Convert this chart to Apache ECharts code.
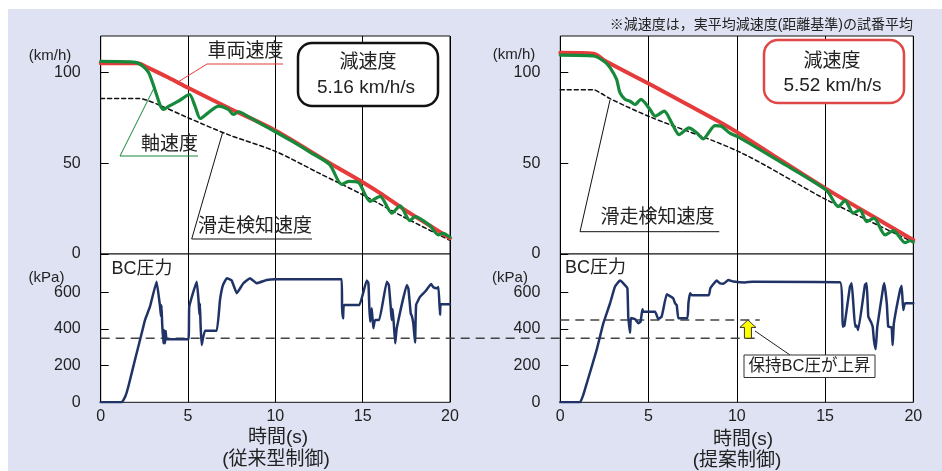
<!DOCTYPE html>
<html><head><meta charset="utf-8">
<script src="https://cdn.jsdelivr.net/npm/echarts@6/dist/echarts.min.js"></script>
<style>
html,body{margin:0;padding:0;background:#fff;}
#bg{position:absolute;left:8px;top:9px;width:934px;height:462px;background:#dfe2f2;}
#chart{position:absolute;left:0;top:0;width:942px;height:471px;}
</style></head><body><div id="bg"></div><div id="chart"></div>
<script>
// ---- axis definitions ----
const timeTicks = [0, 5, 10, 15, 20];
const speedTicks = [0, 50, 100];
const speedMax = 120;
const pressureTicks = [0, 200, 400, 600];
const pressureMax = 810;

// ---- left panel (従来型制御) : [time s, value] ----
const leftVehicleSpeed = [[0,105],[2.1,105],[2.7,102.6],[3.9,97],[5,91.5],[7.3,80.5],[10,68],[13.1,50.1],[15,39.5],[16,33.5],[17.3,25],[18.9,15.3],[20,8.7]];
const leftAxleSpeed = [[0,106],[2.0,105.5],[2.4,103.5],[2.75,99.8],[3.1,90.6],[3.4,82],[3.6,79.6],[3.9,81.4],[4.45,84.1],[5.08,87.8],[5.4,81.4],[5.7,74.6],[6.15,77.7],[6.75,81.4],[7.3,79.6],[7.6,76.8],[7.9,78.3],[8.5,75.3],[9.2,71.5],[10,67.3],[11,61.8],[12,56],[13.1,49.3],[13.8,38.3],[14.2,40],[14.75,39.4],[15.42,29],[16,31.7],[16.67,22.5],[17.14,26.5],[17.7,18.4],[18,20.6],[18.86,15.5],[19.33,10.5],[19.6,11.4],[20,9.2]];
const leftSlideDetect = [[0,85.6],[2.2,85.6],[2.6,84.8],[3.5,81.4],[5,75],[7.3,65.7],[10,56.5],[12.5,44.5],[15,32.6],[17.3,20.6],[20,7.5]];
const leftBcPressure = [[0,0],[1.2,0],[1.4,30],[1.58,85],[1.96,231],[2.25,340],[2.54,450],[2.82,522],[3.2,659],[3.35,560],[3.4,522],[3.45,470],[3.48,530],[3.52,430],[3.59,322],[3.63,395],[3.68,322],[3.72,390],[3.78,344],[5.02,344],[5.07,522],[5.5,659],[5.6,560],[5.65,480],[5.68,540],[5.72,420],[5.78,313],[5.97,391],[6.64,391],[6.83,559],[7.0,640],[7.22,678],[7.5,665],[7.79,596],[8.17,650],[8.55,678],[8.93,650],[9.5,668],[10,672],[13.8,672],[13.82,520],[13.88,459],[13.93,532],[14.81,532],[15.23,665],[15.33,650],[15.38,520],[15.43,441],[15.52,514],[15.61,404],[15.71,450],[15.95,450],[16.38,659],[16.5,640],[16.61,514],[16.66,450],[16.72,510],[16.86,322],[16.95,404],[17.53,641],[17.62,620],[17.75,486],[17.82,470],[17.9,430],[18.0,326],[18.06,532],[18.29,577],[18.58,605],[18.92,646],[19.05,628],[19.24,623],[19.34,630],[19.43,477],[19.47,536],[20,536]];

// ---- right panel (提案制御) ----
const rightVehicleSpeed = [[0,110.8],[1.9,110.3],[2.5,106.5],[5.08,93.4],[8.95,73.1],[10.08,66.7],[12.45,51.9],[15.09,35.7],[17.73,20.6],[20,7.7]];
const rightAxleSpeed = [[0,109.5],[1.9,109],[2.53,105.7],[2.82,102.6],[3.19,96.1],[3.38,88.8],[3.67,85.1],[3.95,84.1],[4.23,82.3],[4.57,85.1],[5.08,79.6],[5.37,75.9],[5.89,78.6],[6.31,72.2],[6.73,65.7],[7.29,69.4],[7.73,66.7],[8.1,63.4],[8.76,70.7],[9.14,70.3],[9.61,66.5],[10.08,64.5],[12.45,50.8],[15.09,35],[15.75,26.1],[16.13,29.4],[16.6,22.5],[16.98,24.3],[17.36,17.8],[17.77,19.7],[18.4,10.5],[18.87,12.9],[19.53,6.2],[19.81,7.3],[20,6.5]];
const rightSlideDetect = [[0,90.4],[1.87,90.4],[2.3,88.5],[2.82,85.5],[5.08,75.5],[10.08,56.5],[15.09,29.8],[20,6.5]];
const rightBcPressure = [[0,0],[1.12,0],[1.3,40],[1.5,104],[2.06,286],[2.44,432],[2.82,541],[3.1,632],[3.38,665],[3.57,650],[3.8,623],[3.85,468],[3.95,380],[4.0,460],[4.23,455],[4.42,432],[4.55,441],[4.65,508],[4.7,495],[5.37,495],[5.55,454],[5.74,468],[5.83,505],[6.03,590],[6.4,568],[6.5,541],[6.6,530],[6.69,459],[7.2,459],[7.26,541],[7.35,596],[7.45,585],[8.42,585],[8.5,623],[8.86,665],[9.05,650],[9.25,648],[9.52,668],[9.8,660],[10.46,654],[10.9,659],[15.85,656],[16.0,413],[16.1,420],[16.41,632],[16.51,650],[16.6,541],[16.7,413],[16.78,420],[16.88,395],[17.26,641],[17.36,650],[17.45,468],[17.59,441],[17.7,413],[17.77,340],[17.87,290],[17.96,413],[18.3,632],[18.36,650],[18.5,536],[18.58,413],[18.77,410],[18.83,313],[18.9,432],[19.25,614],[19.34,636],[19.43,504],[19.53,541],[20,541]];

// ---- annotations values ----
const holdPressureOld = 350;
const holdPressureNew = 450;
const holdLineEndTime = 11.3;
const arrowTime = 10.63;
const decelLeft = '5.16 km/h/s';
const decelRight = '5.52 km/h/s';

const FF = "'Liberation Sans','Noto Sans CJK JP',sans-serif";
const RED = '#e53b3b', GREEN = '#17893a', NAVY = '#1f3366', TXT = '#222';

const chart = echarts.init(document.getElementById('chart'), null, {renderer:'canvas'});

const plotL = {left:100.7, width:349.3}, plotR = {left:560.3, width:353};
const topY = 36, midY = 254, botY = 402.3;
const topH = midY - topY, botH = botY - midY;
const scaleTopH = topH * speedTicks[speedTicks.length-1] / speedMax;
const scaleBotH = botH * pressureTicks[pressureTicks.length-1] / pressureMax;

function dataGrid(p, top, h){ return {left:p.left, width:p.width, top:top, height:h, show:true, backgroundColor:'#fff', borderColor:'#111', borderWidth:1, containLabel:false}; }
function scaleGrid(p, top, h){ return {left:p.left, width:p.width, top:top, height:h, show:false, containLabel:false}; }

const grids = [
  dataGrid(plotL, topY, topH), dataGrid(plotL, midY, botH),
  dataGrid(plotR, topY, topH), dataGrid(plotR, midY, botH),
  scaleGrid(plotL, midY - scaleTopH, scaleTopH), scaleGrid(plotL, botY - scaleBotH, scaleBotH),
  scaleGrid(plotR, midY - scaleTopH, scaleTopH), scaleGrid(plotR, botY - scaleBotH, scaleBotH)
];

function dataX(gi, labels){
  return {type:'value', gridIndex:gi, min:timeTicks[0], max:timeTicks[timeTicks.length-1], interval:timeTicks[1]-timeTicks[0],
    axisLine:{show:false}, axisTick:{show:false},
    axisLabel:{show:labels, fontSize:16, color:TXT, margin:6, fontFamily:FF},
    splitLine:{show:true, lineStyle:{color:'#000', width:1}}};
}
function hiddenX(gi){ return {type:'value', gridIndex:gi, show:false, min:0, max:20}; }
function hiddenY(gi, max){ return {type:'value', gridIndex:gi, show:false, min:0, max:max}; }
function scaleY(gi, ticks){
  return {type:'value', gridIndex:gi, min:ticks[0], max:ticks[ticks.length-1], interval:ticks[1]-ticks[0], position:'left', offset:12,
    axisLine:{show:true, lineStyle:{color:'#000', width:1}},
    axisTick:{show:true, inside:true, length:8, lineStyle:{color:'#000', width:1}},
    axisLabel:{fontSize:16, color:TXT, margin:8, fontFamily:FF},
    splitLine:{show:false}};
}

const xAxes = [dataX(0,false), dataX(1,true), dataX(2,false), dataX(3,true), hiddenX(4), hiddenX(5), hiddenX(6), hiddenX(7)];
const yAxes = [hiddenY(0,speedMax), hiddenY(1,pressureMax), hiddenY(2,speedMax), hiddenY(3,pressureMax),
  scaleY(4,speedTicks), scaleY(5,pressureTicks), scaleY(6,speedTicks), scaleY(7,pressureTicks)];

function ln(gi, data, color, width, z, smooth, dash){
  return {type:'line', xAxisIndex:gi, yAxisIndex:gi, data:data, showSymbol:false, symbol:'none', smooth:smooth, z:z, silent:true,
    lineStyle:{color:color, width:width, type: dash || 'solid', cap:'round', join:'round'}};
}

const series = [
  ln(0, leftSlideDetect, '#111', 1.5, 2, 0.3, [4,3]),
  ln(0, leftVehicleSpeed, RED, 4, 3, 0.3),
  ln(0, leftAxleSpeed, GREEN, 3.2, 4, 0.25),
  ln(1, leftBcPressure, NAVY, 2.5, 3, 0.1),
  ln(2, rightSlideDetect, '#111', 1.5, 2, 0.3, [4,3]),
  ln(2, rightVehicleSpeed, RED, 4, 3, 0.3),
  ln(2, rightAxleSpeed, GREEN, 3.2, 4, 0.25),
  ln(3, rightBcPressure, NAVY, 2.5, 3, 0.1)
];

chart.setOption({animation:false, grid:grids, xAxis:xAxes, yAxis:yAxes, series:series, textStyle:{fontFamily:FF}});

const px = (gi, pt) => chart.convertToPixel({gridIndex:gi}, pt);

function txt(x, y, s, size, align, color){
  return {type:'text', z:20, style:{text:s, x:x, y:y, font: size + 'px ' + FF, fill:color||TXT, textAlign:align||'center', textVerticalAlign:'middle', verticalAlign:'middle'}};
}
function seg(x1,y1,x2,y2,color,w,dash){
  return {type:'line', z:15, shape:{x1:x1,y1:y1,x2:x2,y2:y2}, style:{stroke:color, lineWidth:w||1, lineDash:dash||null}};
}

const g = [];
// hold pressure dashed lines
const a1 = px(1,[0,holdPressureOld]), b1 = px(3,[holdLineEndTime,holdPressureOld]);
g.push(Object.assign(seg(a1[0],a1[1],b1[0],b1[1],'#444',1.5,[9,6]),{z:1}));
const a2 = px(3,[0,holdPressureNew]), b2 = px(3,[holdLineEndTime,holdPressureNew]);
g.push(Object.assign(seg(a2[0],a2[1],b2[0],b2[1],'#444',1.5,[9,6]),{z:1}));
// yellow arrow
const ab = px(3,[arrowTime,holdPressureOld]), at = px(3,[arrowTime,holdPressureNew]);
const ax = ab[0], hy = at[1]+7.5;
g.push({type:'polygon', z:16, shape:{points:[[ax,at[1]],[ax+8,hy],[ax+3.5,hy],[ax+3.5,ab[1]],[ax-3.5,ab[1]],[ax-3.5,hy],[ax-8,hy]]}, style:{fill:'#ffff00', stroke:'#333', lineWidth:1}});
// leader to box
g.push(seg(ax+7, at[1]+11, 790, 355, '#222', 1));
g.push({type:'rect', z:16, shape:{x:744, y:355, width:131, height:22.5}, style:{fill:'#fff', stroke:'#333', lineWidth:1}});
g.push(txt(809.5, 366.5, '保持BC圧が上昇', 16.5));

// deceleration boxes
g.push({type:'rect', z:16, shape:{x:298, y:43, width:140, height:63, r:14}, style:{fill:'#fff', stroke:'#111', lineWidth:2.5}});
g.push(txt(368, 63, '減速度', 19));
g.push(txt(366, 88, decelLeft, 19));
g.push({type:'rect', z:16, shape:{x:764, y:40, width:140, height:63, r:14}, style:{fill:'#fff', stroke:'#e04848', lineWidth:2.5}});
g.push(txt(832, 62, '減速度', 19));
g.push(txt(832.5, 86, decelRight, 19));

// series labels with leaders
g.push(seg(207,64,283,64,RED,1)); g.push(seg(207,64,178,82,RED,1));
g.push(txt(245.5, 52, '車両速度', 19));
g.push(seg(120,156,198,156,GREEN,1)); g.push(seg(120,156,154,88,GREEN,1));
g.push(txt(169.5, 145, '軸速度', 19));
g.push(seg(191.7,239,312,239,'#111',1)); g.push(seg(191.7,239,222.7,132.3,'#111',1));
g.push(txt(255, 227, '滑走検知速度', 19));
g.push(seg(580,231.7,719.3,231.7,'#111',1)); g.push(seg(580,231.7,610,100,'#111',1));
g.push(txt(657.5, 218, '滑走検知速度', 19));

// units & panel labels
g.push(txt(50, 56, '(km/h)', 15)); g.push(txt(514, 55, '(km/h)', 15));
g.push(txt(46.5, 278, '(kPa)', 15)); g.push(txt(510, 278, '(kPa)', 15));
g.push(txt(111.5, 269, 'BC圧力', 18, 'left')); g.push(txt(565, 268, 'BC圧力', 18, 'left'));
g.push(txt(278, 438, '時間(s)', 19)); g.push(txt(276, 460, '(従来型制御)', 19));
g.push(txt(743, 440, '時間(s)', 19)); g.push(txt(737, 460.5, '(提案制御)', 19));
g.push(txt(913, 25, '※減速度は，実平均減速度(距離基準)の試番平均', 14, 'right'));

chart.setOption({graphic:{elements:g}});
</script></body></html>
